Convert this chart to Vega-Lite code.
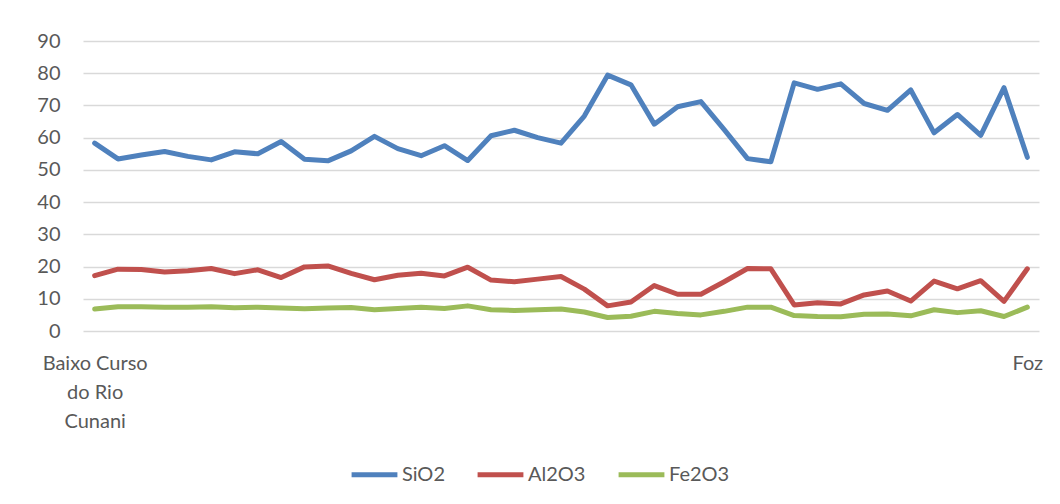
{
  "$schema": "https://vega.github.io/schema/vega-lite/v6.json",
  "autosize": "none",
  "width": 956,
  "height": 290,
  "padding": {"left": 83, "top": 41, "right": 21, "bottom": 173},
  "background": "white",
  "config": {
    "font": "Lato",
    "view": {"stroke": null}
  },
  "data": {
    "values": [
      {"i":0,"s":"SiO2","v":58.3},{"i":1,"s":"SiO2","v":53.4},{"i":2,"s":"SiO2","v":54.6},{"i":3,"s":"SiO2","v":55.7},{"i":4,"s":"SiO2","v":54.2},{"i":5,"s":"SiO2","v":53.1},{"i":6,"s":"SiO2","v":55.6},{"i":7,"s":"SiO2","v":55.0},{"i":8,"s":"SiO2","v":58.8},{"i":9,"s":"SiO2","v":53.3},{"i":10,"s":"SiO2","v":52.8},{"i":11,"s":"SiO2","v":55.9},{"i":12,"s":"SiO2","v":60.4},{"i":13,"s":"SiO2","v":56.6},{"i":14,"s":"SiO2","v":54.4},{"i":15,"s":"SiO2","v":57.5},{"i":16,"s":"SiO2","v":52.9},{"i":17,"s":"SiO2","v":60.6},{"i":18,"s":"SiO2","v":62.3},{"i":19,"s":"SiO2","v":60.0},{"i":20,"s":"SiO2","v":58.3},{"i":21,"s":"SiO2","v":66.7},{"i":22,"s":"SiO2","v":79.4},{"i":23,"s":"SiO2","v":76.4},{"i":24,"s":"SiO2","v":64.2},{"i":25,"s":"SiO2","v":69.6},{"i":26,"s":"SiO2","v":71.2},{"i":27,"s":"SiO2","v":62.5},{"i":28,"s":"SiO2","v":53.5},{"i":29,"s":"SiO2","v":52.5},{"i":30,"s":"SiO2","v":77.0},{"i":31,"s":"SiO2","v":75.0},{"i":32,"s":"SiO2","v":76.7},{"i":33,"s":"SiO2","v":70.6},{"i":34,"s":"SiO2","v":68.5},{"i":35,"s":"SiO2","v":74.8},{"i":36,"s":"SiO2","v":61.5},{"i":37,"s":"SiO2","v":67.2},{"i":38,"s":"SiO2","v":60.7},{"i":39,"s":"SiO2","v":75.5},{"i":40,"s":"SiO2","v":53.9},
      {"i":0,"s":"Al2O3","v":17.2},{"i":1,"s":"Al2O3","v":19.2},{"i":2,"s":"Al2O3","v":19.1},{"i":3,"s":"Al2O3","v":18.3},{"i":4,"s":"Al2O3","v":18.7},{"i":5,"s":"Al2O3","v":19.4},{"i":6,"s":"Al2O3","v":17.8},{"i":7,"s":"Al2O3","v":19.0},{"i":8,"s":"Al2O3","v":16.6},{"i":9,"s":"Al2O3","v":19.9},{"i":10,"s":"Al2O3","v":20.2},{"i":11,"s":"Al2O3","v":17.9},{"i":12,"s":"Al2O3","v":15.9},{"i":13,"s":"Al2O3","v":17.3},{"i":14,"s":"Al2O3","v":17.9},{"i":15,"s":"Al2O3","v":17.1},{"i":16,"s":"Al2O3","v":19.8},{"i":17,"s":"Al2O3","v":15.8},{"i":18,"s":"Al2O3","v":15.3},{"i":19,"s":"Al2O3","v":16.1},{"i":20,"s":"Al2O3","v":16.9},{"i":21,"s":"Al2O3","v":13.0},{"i":22,"s":"Al2O3","v":7.8},{"i":23,"s":"Al2O3","v":9.0},{"i":24,"s":"Al2O3","v":14.1},{"i":25,"s":"Al2O3","v":11.4},{"i":26,"s":"Al2O3","v":11.4},{"i":27,"s":"Al2O3","v":15.3},{"i":28,"s":"Al2O3","v":19.4},{"i":29,"s":"Al2O3","v":19.3},{"i":30,"s":"Al2O3","v":8.1},{"i":31,"s":"Al2O3","v":8.8},{"i":32,"s":"Al2O3","v":8.4},{"i":33,"s":"Al2O3","v":11.2},{"i":34,"s":"Al2O3","v":12.4},{"i":35,"s":"Al2O3","v":9.3},{"i":36,"s":"Al2O3","v":15.5},{"i":37,"s":"Al2O3","v":13.1},{"i":38,"s":"Al2O3","v":15.6},{"i":39,"s":"Al2O3","v":9.2},{"i":40,"s":"Al2O3","v":19.3},
      {"i":0,"s":"Fe2O3","v":6.8},{"i":1,"s":"Fe2O3","v":7.5},{"i":2,"s":"Fe2O3","v":7.5},{"i":3,"s":"Fe2O3","v":7.4},{"i":4,"s":"Fe2O3","v":7.4},{"i":5,"s":"Fe2O3","v":7.5},{"i":6,"s":"Fe2O3","v":7.2},{"i":7,"s":"Fe2O3","v":7.4},{"i":8,"s":"Fe2O3","v":7.1},{"i":9,"s":"Fe2O3","v":6.9},{"i":10,"s":"Fe2O3","v":7.1},{"i":11,"s":"Fe2O3","v":7.3},{"i":12,"s":"Fe2O3","v":6.6},{"i":13,"s":"Fe2O3","v":7.0},{"i":14,"s":"Fe2O3","v":7.4},{"i":15,"s":"Fe2O3","v":7.0},{"i":16,"s":"Fe2O3","v":7.8},{"i":17,"s":"Fe2O3","v":6.6},{"i":18,"s":"Fe2O3","v":6.4},{"i":19,"s":"Fe2O3","v":6.6},{"i":20,"s":"Fe2O3","v":6.8},{"i":21,"s":"Fe2O3","v":5.9},{"i":22,"s":"Fe2O3","v":4.2},{"i":23,"s":"Fe2O3","v":4.6},{"i":24,"s":"Fe2O3","v":6.1},{"i":25,"s":"Fe2O3","v":5.4},{"i":26,"s":"Fe2O3","v":5.0},{"i":27,"s":"Fe2O3","v":6.1},{"i":28,"s":"Fe2O3","v":7.4},{"i":29,"s":"Fe2O3","v":7.4},{"i":30,"s":"Fe2O3","v":4.8},{"i":31,"s":"Fe2O3","v":4.5},{"i":32,"s":"Fe2O3","v":4.4},{"i":33,"s":"Fe2O3","v":5.2},{"i":34,"s":"Fe2O3","v":5.3},{"i":35,"s":"Fe2O3","v":4.7},{"i":36,"s":"Fe2O3","v":6.6},{"i":37,"s":"Fe2O3","v":5.7},{"i":38,"s":"Fe2O3","v":6.3},{"i":39,"s":"Fe2O3","v":4.5},{"i":40,"s":"Fe2O3","v":7.4}
    ]
  },
  "mark": {"type": "line", "strokeWidth": 5, "strokeJoin": "round", "strokeCap": "round"},
  "encoding": {
    "x": {
      "field": "i",
      "type": "ordinal",
      "scale": {"type": "point", "padding": 0.5},
      "axis": {
        "title": null,
        "labelAngle": 0,
        "domain": false,
        "ticks": false,
        "labelExpr": "datum.value == 0 ? ['Baixo Curso', 'do Rio', 'Cunani'] : (datum.value == 40 ? 'Foz' : '')",
        "labelFontSize": 20,
        "labelColor": "#595959",
        "labelLineHeight": 29,
        "labelPadding": 22,
        "labelOverlap": false
      }
    },
    "y": {
      "field": "v",
      "type": "quantitative",
      "scale": {"domain": [0, 90], "nice": false},
      "axis": {
        "title": null,
        "values": [0, 10, 20, 30, 40, 50, 60, 70, 80, 90],
        "domain": false,
        "ticks": false,
        "labelFontSize": 20,
        "labelColor": "#595959",
        "labelPadding": 23,
        "gridColor": "#d9d9d9",
        "gridWidth": 1.5
      }
    },
    "color": {
      "field": "s",
      "type": "nominal",
      "scale": {"domain": ["SiO2", "Al2O3", "Fe2O3"], "range": ["#4f81bd", "#c0504d", "#9bbb59"]},
      "legend": {
        "title": null,
        "orient": "none",
        "legendX": 266,
        "legendY": 408,
        "direction": "horizontal",
        "symbolType": "stroke",
        "symbolSize": 2100,
        "symbolStrokeWidth": 5,
        "labelFontSize": 20,
        "labelColor": "#595959",
        "labelOffset": 2,
        "columnPadding": 22
      }
    }
  }
}
